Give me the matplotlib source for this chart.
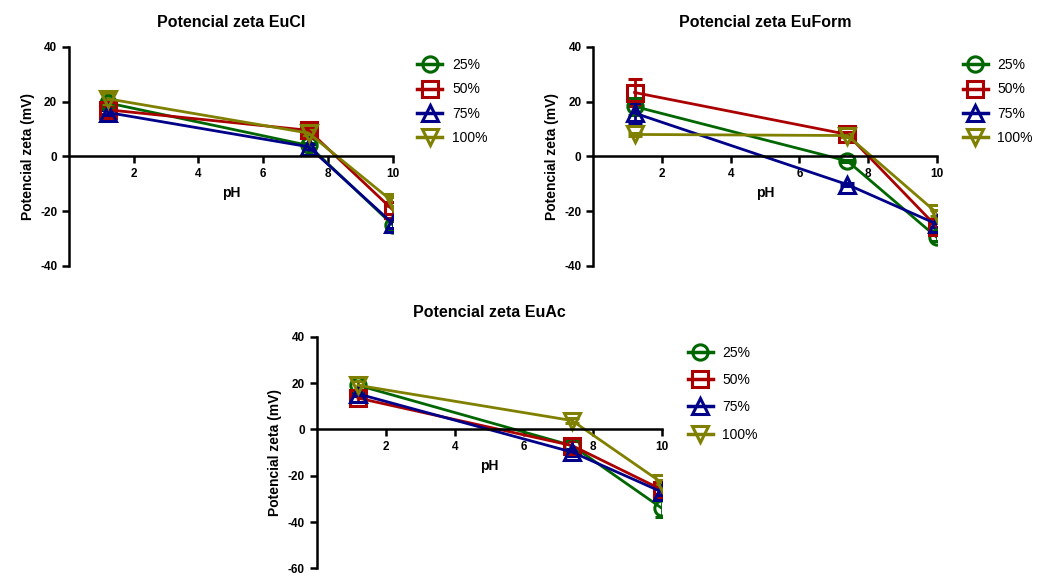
import numpy as np
from matplotlib import pyplot as plt
from matplotlib.lines import Line2D

plt.rcParams['font.family'] = ['Liberation Sans', 'DejaVu Sans']
plt.rcParams['axes.unicode_minus'] = False

ph = [1.2, 7.4, 10.0]
labels = ['25%', '50%', '75%', '100%']
colors = ['#006600', '#aa0000', '#000088', '#808000']
markers = ['o', 's', '^', 'v']

# EuCl
eucl_25 = [19.5, 4.0, -25.0]
eucl_50 = [17.0, 9.5, -19.5]
eucl_75 = [16.0, 3.5, -24.5]
eucl_100 = [21.0, 8.5, -16.5]
eucl_err_25 = [1.5, 1.0, 1.5]
eucl_err_50 = [1.5, 1.0, 1.5]
eucl_err_75 = [1.0, 1.0, 1.5]
eucl_err_100 = [2.0, 1.0, 1.5]

# EuForm
euform_25 = [18.2, -1.7, -29.5]
euform_50 = [23.3, 8.0, -25.7]
euform_75 = [15.8, -10.3, -24.7]
euform_100 = [8.0, 7.6, -20.6]
euform_err_25 = [3.0, 0.5, 1.5]
euform_err_50 = [5.0, 1.0, 1.5]
euform_err_75 = [3.5, 0.5, 1.0]
euform_err_100 = [0.5, 0.5, 1.0]

# EuAc
euac_25 = [19.0, -7.0, -34.0]
euac_50 = [13.5, -7.0, -26.0]
euac_75 = [15.3, -9.8, -27.0]
euac_100 = [19.0, 3.8, -23.0]
euac_err_25 = [2.0, 2.0, 4.0]
euac_err_50 = [1.5, 2.0, 2.0]
euac_err_75 = [1.0, 1.5, 1.5]
euac_err_100 = [2.0, 1.0, 1.0]


def draw_panel(ax, title, series, errors, ylim, yticks, legend_pos, spacing):
    handles = []
    for vals, errs, lab, col, mk in zip(series, errors, labels, colors, markers):
        ax.errorbar(ph, vals, yerr=errs, color=col, marker=mk, markersize=11,
                    markerfacecolor='none', markeredgewidth=2.2, linewidth=2,
                    elinewidth=2, capsize=5, capthick=2)
        handles.append(Line2D([], [], color=col, marker=mk, markersize=11,
                              markerfacecolor='none', markeredgewidth=2.2,
                              linewidth=2.5, label=lab))
    ax.set_xlim(0, 10)
    ax.set_ylim(*ylim)
    ax.set_xticks([2, 4, 6, 8, 10])
    ax.set_yticks(yticks)
    ax.spines['right'].set_visible(False)
    ax.spines['top'].set_visible(False)
    ax.spines['bottom'].set_position(('data', 0))
    ax.spines['left'].set_linewidth(1.8)
    ax.spines['bottom'].set_linewidth(1.8)
    ax.tick_params(width=1.8, length=5, labelsize=8.5)
    for t in ax.get_xticklabels() + ax.get_yticklabels():
        t.set_fontweight('bold')
    ax.set_xlabel('pH', fontsize=10, fontweight='bold')
    ax.set_ylabel('Potencial zeta (mV)', fontsize=10, fontweight='bold')
    ax.set_title(title, fontsize=11.5, fontweight='bold', pad=14)
    ax.legend(handles=handles, loc='upper left', bbox_to_anchor=legend_pos,
              frameon=False, fontsize=10, handlelength=1.8,
              labelspacing=spacing, borderpad=0, handletextpad=0.7)


fig = plt.figure(figsize=(10.47, 5.77), dpi=100)
ax1 = fig.add_axes([0.0659, 0.539, 0.3092, 0.380])
ax2 = fig.add_axes([0.5667, 0.539, 0.328, 0.380])
ax3 = fig.add_axes([0.3025, 0.015, 0.3295, 0.4015])

draw_panel(ax1, 'Potencial zeta EuCl', [eucl_25, eucl_50, eucl_75, eucl_100],
           [eucl_err_25, eucl_err_50, eucl_err_75, eucl_err_100],
           (-40, 40), [-40, -20, 0, 20, 40], (1.055, 0.98), 0.75)
draw_panel(ax2, 'Potencial zeta EuForm', [euform_25, euform_50, euform_75, euform_100],
           [euform_err_25, euform_err_50, euform_err_75, euform_err_100],
           (-40, 40), [-40, -20, 0, 20, 40], (1.055, 0.98), 0.75)
draw_panel(ax3, 'Potencial zeta EuAc', [euac_25, euac_50, euac_75, euac_100],
           [euac_err_25, euac_err_50, euac_err_75, euac_err_100],
           (-60, 40), [-60, -40, -20, 0, 20, 40], (1.055, 0.99), 0.95)

fig.savefig('out.png', dpi=100)
